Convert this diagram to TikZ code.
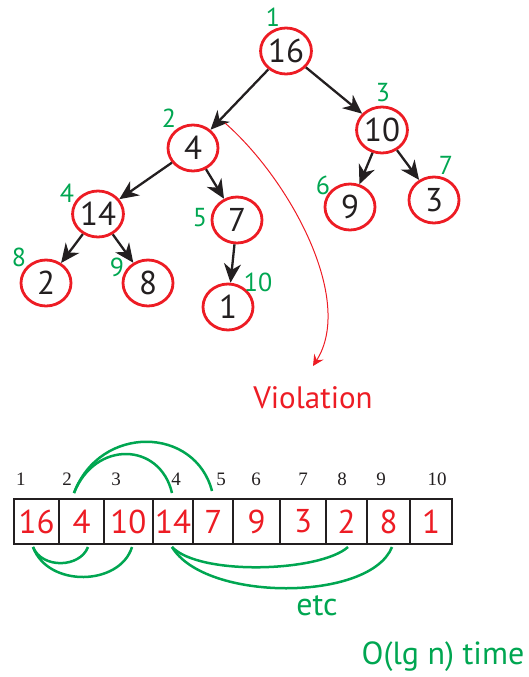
\documentclass[tikz,border=0pt]{standalone}
\usepackage{fontspec}
\setmainfont{PT Sans}
\newfontfamily\idxfont{Liberation Serif}
\usetikzlibrary{arrows.meta,shapes.geometric}
\definecolor{hred}{RGB}{237,28,36}
\definecolor{hgreen}{RGB}{0,166,81}
\definecolor{hblack}{RGB}{35,31,32}
\begin{document}
\begin{tikzpicture}[x=1pt,y=-1pt,
 tnode/.style={ellipse,draw=hred,line width=2.8pt,minimum width=50pt,minimum height=46pt,inner sep=0pt,font=\fontsize{33}{33}\selectfont,text=hblack},
 tlab/.style={text=hgreen,font=\fontsize{26}{26}\selectfont,inner sep=0pt},
 tedge/.style={draw=hblack,line width=2.3pt,-{Stealth[length=19pt,width=17pt,inset=6pt]}},
 cell/.style={rectangle,draw=hblack,line width=2pt,minimum height=45pt,inner sep=0pt,text=hred,font=\fontsize{33}{33}\selectfont},
 idx/.style={font=\idxfont\fontsize{19}{19}\selectfont,text=hblack,inner sep=0pt},
 garc/.style={draw=hgreen,line width=2.5pt},
 gtext/.style={text=hgreen,font=\fontsize{32}{32}\selectfont,inner sep=0pt},
]
\useasboundingbox (0,0) rectangle (529,677);
% tree nodes
\node[tnode] (n1) at (286,51) {16};
\node[tnode] (n2) at (193,148) {4};
\node[tnode] (n3) at (382,130) {10};
\node[tnode] (n4) at (98,214) {14};
\node[tnode] (n5) at (237,220) {7};
\node[tnode] (n6) at (350,207) {9};
\node[tnode] (n7) at (434,200) {3};
\node[tnode] (n8) at (46,283) {2};
\node[tnode] (n9) at (148,283) {8};
\node[tnode] (n10) at (228,307) {1};
% green index labels
\node[tlab] (l1) at (273,17) {1};
\node[tlab] (l2) at (169,118) {2};
\node[tlab] (l3) at (383,93) {3};
\node[tlab] (l4) at (67,193) {4};
\node[tlab] (l5) at (200,218) {5};
\node[tlab] (l6) at (323,185) {6};
\node[tlab] (l7) at (446,165) {7};
\node[tlab] (l8) at (19,257) {8};
\node[tlab] (l9) at (117,267) {9};
\node[tlab] (l10) at (258,282) {10};
% tree edges
\draw[tedge] (n1) -- (n2);
\draw[tedge] (n1) -- (n3);
\draw[tedge] (n2) -- (n4);
\draw[tedge] (n2) -- (n5);
\draw[tedge] (n3) -- (n6);
\draw[tedge] (n3) -- (n7);
\draw[tedge] (n4) -- (n8);
\draw[tedge] (n4) -- (n9);
\draw[tedge] (n5) -- (n10);
% violation
\node[text=hred,font=\fontsize{31}{31}\selectfont,inner sep=0pt] (viol) at (313,398) {Violation};
\coordinate (vs) at (225,123);
\coordinate (ve) at (313,366);
\draw[hred,line width=1pt,-{Stealth[length=11pt,width=11pt,inset=4pt]}] (vs) .. controls (290,180) and (355,300) .. (ve);
% array cells
\node[cell,minimum width=45.3pt] (c1) at (36.65,521.5) {16};
\node[cell,minimum width=44.7pt] (c2) at (81.65,521.5) {4};
\node[cell,minimum width=48.7pt] (c3) at (128.35,521.5) {10};
\node[cell,minimum width=40.6pt] (c4) at (173,521.5) {14};
\node[cell,minimum width=40pt] (c5) at (213.3,521.5) {7};
\node[cell,minimum width=46.7pt] (c6) at (256.65,521.5) {9};
\node[cell,minimum width=46pt] (c7) at (303,521.5) {3};
\node[cell,minimum width=41.3pt] (c8) at (346.65,521.5) {2};
\node[cell,minimum width=42.7pt] (c9) at (388.65,521.5) {8};
\node[cell,minimum width=42.3pt] (c10) at (431.15,521.5) {1};
% array indices
\node[idx] (i1) at (21,479) {1};
\node[idx] (i2) at (67,479) {2};
\node[idx] (i3) at (116,479) {3};
\node[idx] (i4) at (176,479) {4};
\node[idx] (i5) at (221,479) {5};
\node[idx] (i6) at (256,479) {6};
\node[idx] (i7) at (303,479) {7};
\node[idx] (i8) at (342,479) {8};
\node[idx] (i9) at (381,479) {9};
\node[idx] (i10) at (437,479) {10};
% green arcs
\coordinate (a2) at (74,493);
\coordinate (a4) at (172,493);
\coordinate (a5) at (212,491);
\coordinate (b1) at (33,547);
\coordinate (b2) at (88,547);
\coordinate (b3) at (132,547);
\coordinate (b4) at (172,547);
\coordinate (b8) at (348,547);
\coordinate (b9) at (392,547);
\draw[garc] (a2) .. controls (100,424) and (195,426) .. (a5);
\draw[garc] (a2) .. controls (95,440) and (160,442) .. (a4);
\draw[garc] (b1) .. controls (42,569) and (80,568) .. (b2);
\draw[garc] (b1) .. controls (48,588) and (120,586) .. (b3);
\draw[garc] (b4) .. controls (200,576) and (320,572) .. (b8);
\draw[garc] (b4) .. controls (205,602) and (370,602) .. (b9);
\node[gtext] (etc) at (317,606) {etc};
\node[gtext] (time) at (443,657) {O(lg n) time};
\end{tikzpicture}
\end{document}
